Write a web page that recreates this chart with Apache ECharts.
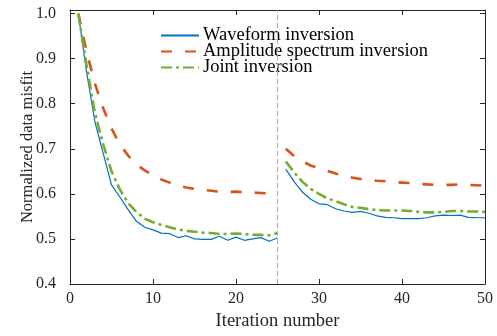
<!DOCTYPE html>
<html>
<head>
<meta charset="utf-8">
<script src="https://cdn.jsdelivr.net/npm/echarts@6/dist/echarts.min.js"></script>
<style>
  html, body { margin: 0; padding: 0; background: #fff; }
  #chart { width: 497px; height: 336px; }
</style>
</head>
<body>
<div id="chart"></div>
<script>
// iterations 1..50, the second stage restarts at 26
var iterations = [];
for (var i = 1; i <= 50; i++) iterations.push(i);

var waveform = [
    1.000, 0.870, 0.760, 0.690, 0.620, 0.593, 0.565, 0.539, 0.526, 0.520,
    0.513, 0.512, 0.503, 0.507, 0.500, 0.499, 0.499, 0.506, 0.497, 0.504,
    0.497, 0.500, 0.503, 0.495, 0.502,
    0.655, 0.627, 0.604, 0.588, 0.578, 0.576, 0.567, 0.562, 0.559, 0.561,
    0.557, 0.551, 0.548, 0.547, 0.545, 0.545, 0.545, 0.547, 0.551, 0.553,
    0.552, 0.553, 0.548, 0.547, 0.547
];
var amplitude = [
    1.000, 0.915, 0.845, 0.790, 0.745, 0.710, 0.685, 0.665, 0.652, 0.642,
    0.632, 0.625, 0.619, 0.614, 0.611, 0.609, 0.607, 0.605, 0.604, 0.605,
    0.604, 0.603, 0.602, 0.601, 0.598,
    0.700, 0.684, 0.672, 0.663, 0.657, 0.651, 0.645, 0.640, 0.636, 0.633,
    0.631, 0.629, 0.628, 0.626, 0.625, 0.624, 0.622, 0.621, 0.620, 0.620,
    0.620, 0.621, 0.620, 0.619, 0.618
];
var joint = [
    1.000, 0.885, 0.780, 0.710, 0.650, 0.610, 0.580, 0.560, 0.545, 0.537,
    0.531, 0.526, 0.521, 0.518, 0.516, 0.514, 0.513, 0.511, 0.511, 0.512,
    0.511, 0.509, 0.509, 0.508, 0.513,
    0.672, 0.648, 0.627, 0.611, 0.600, 0.590, 0.584, 0.577, 0.571, 0.569,
    0.566, 0.564, 0.563, 0.563, 0.563, 0.562, 0.560, 0.559, 0.559, 0.560,
    0.562, 0.562, 0.561, 0.561, 0.560
];
var seriesNames = ['Waveform inversion', 'Amplitude spectrum inversion', 'Joint inversion'];
var switchIteration = 25;
var xTicks = [0, 10, 20, 30, 40, 50];
var yTicks = [0.4, 0.5, 0.6, 0.7, 0.8, 0.9, 1.0];

var font = 'Liberation Serif, Times New Roman, serif';
var axisColor = '#262626';

// pair values with iterations, break the line between the two stages
function toData(values) {
    var out = [];
    for (var k = 0; k < iterations.length; k++) {
        out.push([iterations[k], values[k]]);
        if (iterations[k] === switchIteration) out.push([switchIteration + 0.5, '-']);
    }
    return out;
}

var chart = echarts.init(document.getElementById('chart'));

var baseX = {
    type: 'value',
    min: xTicks[0],
    max: xTicks[xTicks.length - 1],
    interval: 10,
    splitLine: { show: false },
    axisLine: { onZero: false, lineStyle: { color: axisColor, width: 1 } },
    axisTick: { inside: true, length: 5, lineStyle: { color: axisColor } }
};
var baseY = {
    type: 'value',
    min: yTicks[0],
    max: 1.008,
    interval: 0.1,
    splitLine: { show: false },
    axisLine: { onZero: false, lineStyle: { color: axisColor, width: 1 } },
    axisTick: { inside: true, length: 5, lineStyle: { color: axisColor } }
};

var option = {
    animation: false,
    backgroundColor: '#fff',
    grid: { left: 70, right: 12, top: 10, bottom: 52 },
    legend: {
        orient: 'vertical',
        left: 155,
        top: 21,
        itemWidth: 38,
        itemHeight: 10,
        itemGap: -3,
        data: seriesNames,
        itemStyle: { opacity: 0 },
        textStyle: { fontFamily: font, fontSize: 18.5, color: '#000', lineHeight: 15, padding: [0, 0, 0, -1] }
    },
    xAxis: [
        Object.assign({}, baseX, {
            position: 'bottom',
            name: 'Iteration number',
            nameLocation: 'middle',
            nameGap: 28,
            nameMoveOverlap: false,
            nameTextStyle: { fontFamily: font, fontSize: 18.5, color: axisColor },
            axisLabel: { fontFamily: font, fontSize: 16, color: axisColor, margin: 7 }
        }),
        Object.assign({}, baseX, { position: 'top', axisLabel: { show: false } })
    ],
    yAxis: [
        Object.assign({}, baseY, {
            position: 'left',
            name: 'Normalized data misfit',
            nameLocation: 'middle',
            nameGap: 34,
            nameMoveOverlap: false,
            nameTextStyle: { fontFamily: font, fontSize: 16.5, color: axisColor },
            axisLabel: {
                fontFamily: font, fontSize: 16, color: axisColor, margin: 14,
                showMaxLabel: false,
                formatter: function (v) { return v.toFixed(1); }
            }
        }),
        Object.assign({}, baseY, { position: 'right', axisLabel: { show: false } })
    ],
    series: [
        {
            name: seriesNames[0], type: 'line', symbol: 'none',
            data: toData(waveform),
            lineStyle: { color: '#0072BD', width: 1.2 },
            itemStyle: { color: '#0072BD' },
            markLine: {
                silent: true, symbol: 'none', label: { show: false },
                lineStyle: { color: '#a8a8a8', type: [5, 3], width: 1 },
                data: [{ xAxis: switchIteration }]
            }
        },
        {
            name: seriesNames[1], type: 'line', symbol: 'none',
            data: toData(amplitude),
            lineStyle: { color: '#D95319', width: 2.6, type: [11, 13] },
            itemStyle: { color: '#D95319' }
        },
        {
            name: seriesNames[2], type: 'line', symbol: 'none',
            data: toData(joint),
            lineStyle: { color: '#77AC30', width: 2.6, type: [11, 4, 3, 4] },
            itemStyle: { color: '#77AC30' }
        }
    ]
};

chart.setOption(option);
</script>
</body>
</html>
